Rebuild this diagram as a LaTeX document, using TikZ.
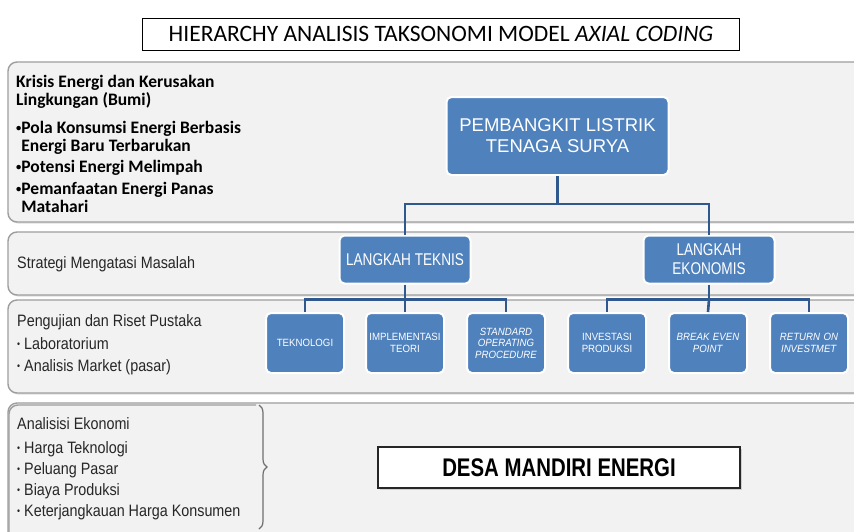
\documentclass[tikz,border=0pt]{standalone}
\usepackage{fontspec}
\usepackage{graphicx}
\setmainfont{Liberation Sans}
\newfontfamily\calfont{Carlito}
\newfontfamily\narrowfont[FakeStretch=0.8]{Liberation Sans}
\newfontfamily\bandfont[FakeStretch=0.87]{Liberation Sans}
\newfontfamily\leaffont[FakeStretch=0.92]{Liberation Sans}
\usetikzlibrary{positioning,shadows,calc,decorations.pathreplacing}
\definecolor{boxblue}{RGB}{79,129,189}
\definecolor{linkblue}{RGB}{47,88,143}
\definecolor{bandfill}{RGB}{242,242,242}
\definecolor{bandline}{RGB}{158,158,158}
\newcommand{\smallbullet}{\raisebox{0.12em}{\scalebox{0.6}{\textbullet}}}
\tikzset{
  band/.style={draw=bandline,fill=bandfill,line width=1.4pt,rounded corners=9pt,
    drop shadow={shadow xshift=1pt,shadow yshift=-1.5pt,opacity=0.25}},
  bandtext/.style={anchor=north west,align=left,inner sep=0pt,text=black!85,
    font=\bandfont\fontsize{16.5}{22}\selectfont},
  krisistext/.style={anchor=north west,align=left,inner sep=0pt,
    font=\calfont\bfseries\fontsize{17.5}{18}\selectfont},
  bluebox/.style={fill=boxblue,draw=white,line width=2pt,rounded corners=5pt,
    text=white,align=center,inner sep=2pt},
  topbox/.style={bluebox,minimum width=222pt,minimum height=78pt,
    font=\fontsize{18.5}{21}\selectfont},
  stepbox/.style={bluebox,minimum width=131pt,minimum height=48pt,
    font=\narrowfont\fontsize{17}{19}\selectfont},
  leafbox/.style={bluebox,minimum width=75pt,minimum height=60pt,text width=74pt,
    font=\leaffont\fontsize{10.5}{11.5}\selectfont},
  link/.style={draw=linkblue,line width=2.6pt},
  titlebox/.style={draw=black,fill=white,line width=0.9pt,minimum width=597pt,
    minimum height=32pt,font=\calfont\fontsize{23.5}{26}\selectfont},
  goalbox/.style={draw=black!85,fill=white,line width=1.2pt,minimum width=362pt,
    minimum height=41pt,font=\narrowfont\bfseries\fontsize{25.5}{28}\selectfont,
    drop shadow={shadow xshift=1.5pt,shadow yshift=-1.5pt,opacity=0.3}},
}

\begin{document}
\begin{tikzpicture}[x=1pt,y=-1pt]
  \useasboundingbox (0,0) rectangle (854,531);
  \clip (0,0) rectangle (854,531);
  \fill[white] (0,0) rectangle (854,531);

  % level bands
  \path[band] (8,62) rectangle (868,222);
  \path[band] (8,232) rectangle (868,295);
  \path[band] (8,300) rectangle (868,393);
  \path[band] (8,403) rectangle (868,548);

  % economy bracket
  \draw[bandline,line width=1.4pt,rounded corners=9pt] (256,405) -- (9,405) -- (9,540);
  \draw[bandline!70!black,line width=1.2pt,decorate,decoration={brace,amplitude=8pt}]
    (259,405) -- (259,529);

  \node[titlebox] (title) at (441,34) {HIERARCHY ANALISIS TAKSONOMI MODEL \textit{AXIAL CODING}};

  % band texts
  \node[krisistext] (krisis) at (16,75) {Krisis Energi dan Kerusakan\\
    Lingkungan (Bumi)\\[10pt]
    \smallbullet Pola Konsumsi Energi Berbasis\\
    \phantom{\smallbullet}Energi Baru Terbarukan\\[3pt]
    \smallbullet Potensi Energi Melimpah\\[4pt]
    \smallbullet Pemanfaatan Energi Panas\\
    \phantom{\smallbullet}Matahari};
  \node[bandtext,anchor=west] (strategi) at (17,264) {Strategi Mengatasi Masalah};
  \node[bandtext] (riset) at (17,314) {Pengujian dan Riset Pustaka\\[1pt]
    \smallbullet{} Laboratorium\\
    \smallbullet{} Analisis Market (pasar)};
  \node[bandtext] (ekonomi) at (17,417) {Analisisi Ekonomi\\[2pt]
    \smallbullet{} Harga Teknologi\\[-1pt]
    \smallbullet{} Peluang Pasar\\[-1pt]
    \smallbullet{} Biaya Produksi\\[-1pt]
    \smallbullet{} Keterjangkauan Harga Konsumen};

  % hierarchy
  \node[topbox] (plts) at (557.5,136) {PEMBANGKIT LISTRIK\\TENAGA SURYA};
  \node[stepbox] (teknis) at (405,259.5) {LANGKAH TEKNIS};
  \node[stepbox] (ekonomis) at (709,259.5) {LANGKAH\\EKONOMIS};

  \foreach \n/\x/\t in {tek/305/TEKNOLOGI, imp/405/IMPLEMENTASI\\TEORI,
      sop/506/\textit{STANDARD}\\\textit{OPERATING}\\\textit{PROCEDURE},
      inv/607/INVESTASI\\PRODUKSI, bep/708/\textit{BREAK EVEN}\\\textit{POINT},
      roi/809/\textit{RETURN ON}\\\textit{INVESTMET}}
    \node[leafbox] (\n) at (\x,343) {\t};

  \draw[link] (plts.south) -- ++(0,28) coordinate (fork) -| (teknis.north);
  \draw[link] (fork) -| (ekonomis.north);
  \draw[link] (teknis.south) -- ++(0,15) coordinate (forkt) -| (tek.north);
  \draw[link] (forkt) -| (sop.north);
  \draw[link] (forkt) -- (imp.north);
  \draw[link] (ekonomis.south) -- ++(0,15) coordinate (forke) -| (inv.north);
  \draw[link] (forke) -| (roi.north);
  \draw[link] (forke) -- (bep.north);

  \node[goalbox] (desa) at (559,467.5) {DESA MANDIRI ENERGI};
\end{tikzpicture}
\end{document}
